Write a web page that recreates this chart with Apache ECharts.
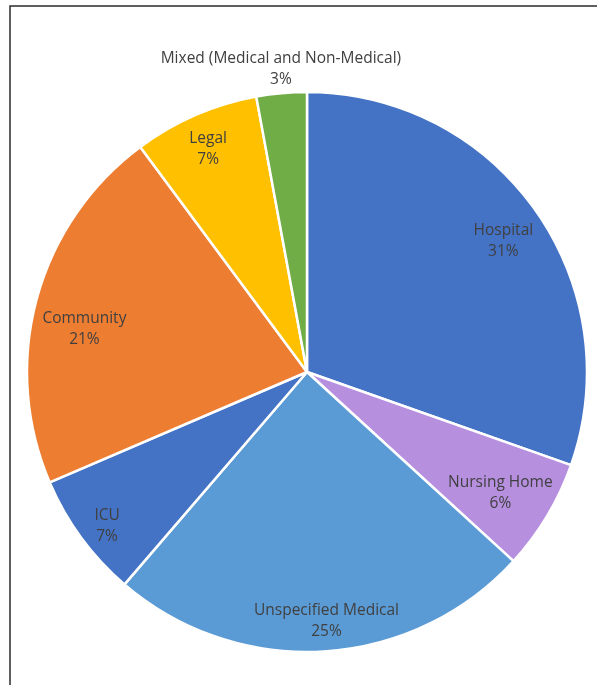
<!DOCTYPE html>
<html>
<head>
<meta charset="utf-8">
<script src="https://cdn.jsdelivr.net/npm/echarts@6/dist/echarts.min.js"></script>
<style>
html,body{margin:0;padding:0;background:#fff;}
#chart{width:597px;height:685px;}
</style>
</head>
<body>
<div id="chart"></div>
<script>
// Data (clockwise from 12 o'clock)
var categories = ['Hospital', 'Nursing Home', 'Unspecified Medical', 'ICU', 'Community', 'Legal', 'Mixed (Medical and Non-Medical)'];
var shares = [30.4, 6.4, 24.5, 7.25, 21.3, 7.25, 2.9];
var shownPercents = ['31%', '6%', '25%', '7%', '21%', '7%', '3%'];
var colors = ['#4472C4', '#B68FDF', '#5B9BD5', '#4472C4', '#ED7D31', '#FFC000', '#70AD47'];

// label nudges (style only), in pixels
var labelNudge = [[-2, 9], [-15, -4], [5, 7], [-4, 10], [12, 20], [-2, 0], [-4, -61]];

var pieData = categories.map(function (c, i) {
  return { name: c, value: shares[i], itemStyle: { color: colors[i] } };
});
var labelData = categories.map(function (c, i) {
  return { name: c, value: shares[i] };
});

var chart = echarts.init(document.getElementById('chart'), null, { renderer: 'canvas' });
var textColor = '#404040';
var font = 'Open Sans';

chart.setOption({
  animation: false,
  backgroundColor: '#ffffff',
  graphic: [{
    type: 'rect',
    shape: { x: 10, y: 6, width: 800, height: 900 },
    style: { fill: 'none', stroke: '#2b2b2b', lineWidth: 1.5 },
    silent: true
  }],
  series: [{
    type: 'pie',
    center: [307, 372],
    radius: [0, 280],
    startAngle: 90,
    clockwise: true,
    silent: true,
    label: { show: false },
    labelLine: { show: false },
    itemStyle: { borderColor: '#ffffff', borderWidth: 2.5 },
    data: pieData
  }, {
    type: 'pie',
    center: [307, 372],
    radius: [200, 280],
    startAngle: 90,
    clockwise: true,
    silent: true,
    itemStyle: { color: 'rgba(0,0,0,0)', borderWidth: 0 },
    label: {
      show: true,
      position: 'inside',
      color: textColor,
      fontFamily: font,
      fontSize: 15.5,
      lineHeight: 21,
      align: 'center',
      formatter: function (p) { return p.name + '\n' + shownPercents[p.dataIndex]; }
    },
    labelLine: { show: false },
    labelLayout: function (p) {
      var n = labelNudge[p.dataIndex];
      return { dx: n[0], dy: n[1] };
    },
    data: labelData
  }]
});
</script>
</body>
</html>
